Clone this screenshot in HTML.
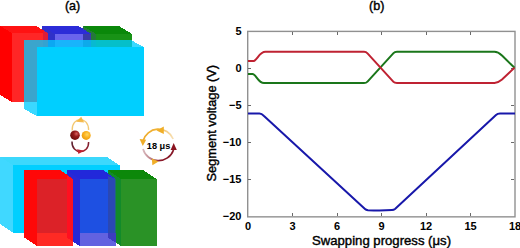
<!DOCTYPE html>
<html><head><meta charset="utf-8">
<style>
html,body{margin:0;padding:0;background:#fff;}
body{width:520px;height:248px;overflow:hidden;position:relative;font-family:"Liberation Sans",sans-serif;}
svg{position:absolute;left:0;top:0;}
</style></head>
<body>
<svg width="520" height="248" viewBox="0 0 520 248">
<!-- ===== (a) top group ===== -->
<g id="topgroup" shape-rendering="crispEdges">
  <!-- green box -->
  <polygon points="83,26 95.5,33 95.5,102 83,95" fill="#24783a"/>
  <polygon points="83,26 119,26 131.5,33.5 95.5,33.5" fill="#0a880a"/>
  <polygon points="95.5,33.5 131.5,33.5 131.5,102 95.5,102" fill="#189216"/>
  <!-- blue box -->
  <polygon points="42,26 54.5,33.5 54.5,102 42,95" fill="#3030c8"/>
  <polygon points="42,26 78.5,26 91,33.8 54.5,33.8" fill="#2c2cd8"/>
  <polygon points="54.5,33.8 90.5,33.8 90.5,102 54.5,102" fill="#6a64ec"/>
  <polygon points="83,33.8 90.5,33.8 90.5,102 83,102" fill="#3a3aa8"/>
  <!-- red box -->
  <polygon points="0,26 12,33 12,102 0,95" fill="#ff0000"/>
  <polygon points="0,26 36,26 48,33 12,33" fill="#ff1212"/>
  <polygon points="12,33 48,33 48,102 12,102" fill="#ff2626"/>
  <polygon points="42.5,30 48,33 48,102 42.5,102" fill="#de1c36"/>
  <!-- cyan box -->
  <polygon points="24,40 131,40 143.5,47 37,47" fill="#00ccff" fill-opacity="0.77"/>
  <polygon points="24,40 37,47 37,116 24,109" fill="#00ccff" fill-opacity="0.77"/>
  <polygon points="37,47 143.5,47 143.5,116 37,116" fill="#00cfff"/>
</g>

<!-- ===== (a) bottom group ===== -->
<g id="botgroup" shape-rendering="crispEdges">
  <!-- cyan box -->
  <polygon points="0,156.5 106.5,156.5 119.5,165.3 13,165.3" fill="#3cd8fc"/>
  <polygon points="0,156.5 13,165.3 13,232.5 0,224" fill="#40d8ff"/>
  <polygon points="13,165.3 119.5,165.3 119.5,232.5 13,232.5" fill="#00cfff"/>
  <!-- green -->
  <polygon points="107.8,170 121,179 121,246 107.8,237.5" fill="#128a2a"/>
  <polygon points="107.8,170 143.3,170 156.5,179 121,179" fill="#0c880a"/>
  <polygon points="121,179 156.5,179 156.5,246 121,246" fill="#2a9226"/>
  <!-- blue -->
  <polygon points="66.5,170 79.5,179 79.5,246 66.5,237.5" fill="#2828d6"/>
  <polygon points="66.5,170 103,170 116,179 79.5,179" fill="#2228da"/>
  <polygon points="79.5,179 116,179 116,232.5 79.5,232.5" fill="#1e50e2"/>
  <polygon points="79.5,232.5 116,232.5 116,246 79.5,246" fill="#6262e0"/>
  <polygon points="107.8,176 116,179 116,232.5 107.8,232.5" fill="#2a48b4"/>
  <polygon points="115,178.6 116,179 116,232.5 115,232.5" fill="#1e6e70"/>
  <polygon points="107.8,232.5 116,232.5 116,242.8 107.8,237.5" fill="#3c3cc0"/>
  <!-- red -->
  <polygon points="24,170 37,179 37,246 24,237.5" fill="#ff0808"/>
  <polygon points="24,170 60.3,170 73,179 37,179" fill="#ff0808"/>
  <polygon points="37,179 73,179 73,232.5 37,232.5" fill="#dc2228"/>
  <polygon points="37,232.5 73,232.5 73,246 37,246" fill="#ff2a24"/>
  <polygon points="66.5,175 72.5,179 72.5,241.5 66.5,237.5" fill="#ff1020"/>
</g>


<!-- swap icon -->
<defs>
  <radialGradient id="gdr" cx="0.65" cy="0.35" r="0.7">
    <stop offset="0" stop-color="#d86060"/><stop offset="0.4" stop-color="#981c1c"/><stop offset="1" stop-color="#6a0c0c"/>
  </radialGradient>
  <radialGradient id="gor" cx="0.6" cy="0.4" r="0.7">
    <stop offset="0" stop-color="#ffd860"/><stop offset="0.5" stop-color="#fab020"/><stop offset="1" stop-color="#e89a08"/>
  </radialGradient>
  <linearGradient id="glow" x1="0" y1="0" x2="1" y2="0">
    <stop offset="0" stop-color="#5a2030"/><stop offset="0.5" stop-color="#c02028"/><stop offset="1" stop-color="#802030"/>
  </linearGradient>
</defs>
<g id="swap">
  <path d="M72.2 130.5C71.5 116 88.8 116 88.6 130" fill="none" stroke="#f2c262" stroke-width="1.3" opacity="0.9"/>
  <path d="M76.2 121.8L81.2 116.8L84.2 122.4Z" fill="#f4b43c" opacity="0.9"/>
  <path d="M72 141.5C71.5 155 89 155 88.6 142" fill="none" stroke="url(#glow)" stroke-width="1.5"/>
  <path d="M77 149.2L83.5 150.6L78.5 154Z" fill="#c02030"/>
  <circle cx="75" cy="135.2" r="4.8" fill="url(#gdr)"/>
  <circle cx="86.2" cy="135.4" r="4.5" fill="url(#gor)"/>
</g>
<!-- 18 us icon -->
<g id="clock">
  <defs>
    <linearGradient id="gup" x1="142" y1="0" x2="175" y2="0" gradientUnits="userSpaceOnUse">
      <stop offset="0" stop-color="#eeaa28"/><stop offset="0.5" stop-color="#f0b438"/><stop offset="0.7" stop-color="#f4cc80"/><stop offset="1" stop-color="#f8e4c0"/>
    </linearGradient>
    <linearGradient id="gdn" x1="142" y1="0" x2="175" y2="0" gradientUnits="userSpaceOnUse">
      <stop offset="0" stop-color="#dcc0c4"/><stop offset="0.3" stop-color="#b87880"/><stop offset="0.55" stop-color="#8a1a2a"/><stop offset="1" stop-color="#861828"/>
    </linearGradient>
  </defs>
  <path d="M173.2 139A16 16 0 0 0 143 141" fill="none" stroke="url(#gup)" stroke-width="1.7"/>
  <path d="M143 149A16 16 0 0 0 173.5 150" fill="none" stroke="url(#gdn)" stroke-width="1.7"/>
  <path d="M156.5 130.5L163.8 126.6L163.8 134Z" fill="#f0ae28"/>
  <path d="M139.6 139L146.2 139.8L142.8 146Z" fill="#f0ae28"/>
  <path d="M151.8 158.6L158.6 161.4L152.4 165.2Z" fill="#f0ae28"/>
  <path d="M170.6 150L173.7 143L176.8 150Z" fill="#8a1420"/>
  <text x="158.6" y="148.8" font-family="Liberation Sans" font-weight="bold" font-size="9.2" text-anchor="middle" fill="#000">18 μs</text>
</g>

<!-- labels -->
<text x="72.6" y="10.1" font-family="Liberation Sans" font-size="12.6" stroke="#000" stroke-width="0.4" text-anchor="middle">(a)</text>
<text x="376.7" y="10.1" font-family="Liberation Sans" font-size="12.6" stroke="#000" stroke-width="0.4" text-anchor="middle">(b)</text>

<!-- ===== chart (b) ===== -->
<g id="chart">
<rect x="247.7" y="31.4" width="267.3" height="185.45" fill="none" stroke="#909090" stroke-width="1.4"/>
<path d="M292.5 216V213M292.5 32V35M337.5 216V213M337.5 32V35M381.5 216V213M381.5 32V35M426.5 216V213M426.5 32V35M470.5 216V213M470.5 32V35M248 68.5H251M514 68.5H511M248 105.5H251M514 105.5H511M248 142.5H251M514 142.5H511M248 179.5H251M514 179.5H511" stroke="#6a6a6a" stroke-width="1" fill="none" shape-rendering="crispEdges"/>
<g font-family="Liberation Sans" font-weight="bold" font-size="11" fill="#000">
<text x="248.0" y="230.0" text-anchor="middle">0</text>
<text x="292.5" y="230.0" text-anchor="middle">3</text>
<text x="337.0" y="230.0" text-anchor="middle">6</text>
<text x="381.5" y="230.0" text-anchor="middle">9</text>
<text x="426.0" y="230.0" text-anchor="middle">12</text>
<text x="470.5" y="230.0" text-anchor="middle">15</text>
<text x="515.0" y="230.0" text-anchor="middle">18</text>
<text x="241.5" y="34.5" text-anchor="end">5</text>
<text x="241.5" y="71.5" text-anchor="end">0</text>
<text x="241.5" y="108.5" text-anchor="end">−5</text>
<text x="241.5" y="145.5" text-anchor="end">−10</text>
<text x="241.5" y="182.5" text-anchor="end">−15</text>
<text x="241.5" y="219.5" text-anchor="end">−20</text>
</g>
<text x="381.5" y="245.1" font-family="Liberation Sans" font-size="13.15" stroke="#000" stroke-width="0.4" text-anchor="middle">Swapping progress (μs)</text>
<text transform="translate(215.8,123.2) rotate(-90)" font-family="Liberation Sans" font-size="12.8" stroke="#000" stroke-width="0.4" text-anchor="middle">Segment voltage (V)</text>
<g fill="none" stroke-width="2" stroke-linejoin="round" stroke-linecap="butt">
<path d="M248 113.6H259.5C261.5 113.6 262.5 114.5 264 116L365 209C366 210 367 210.1 368 210.2C374 210.4 386 210.4 392 210.1C393.5 210 394 209.8 395 209L496 115C497.5 113.6 498.5 113.6 500 113.6H515" stroke="#1818aa"/>
<path d="M248 74H252.5C256 74 258 83.1 264 83.1H364C366 83.1 366.5 82.7 367.5 81.6L393.5 53.1C394.5 52 395 51.8 397 51.8H494.5C498 51.8 499.5 53.2 502 55.5L514.5 67.8" stroke="#1a761a"/>
<path d="M248 61.1H253C257 61.1 259 51.8 265.5 51.8H364C366 51.8 366.5 52.2 367.5 53.3L393.5 81.8C394.5 82.9 395 82.9 397 82.9H494.5C498 82.9 499.5 81.5 502 79.4L514.5 67.8" stroke="#bf2232"/>
</g>
</g>
</svg>
</body></html>
